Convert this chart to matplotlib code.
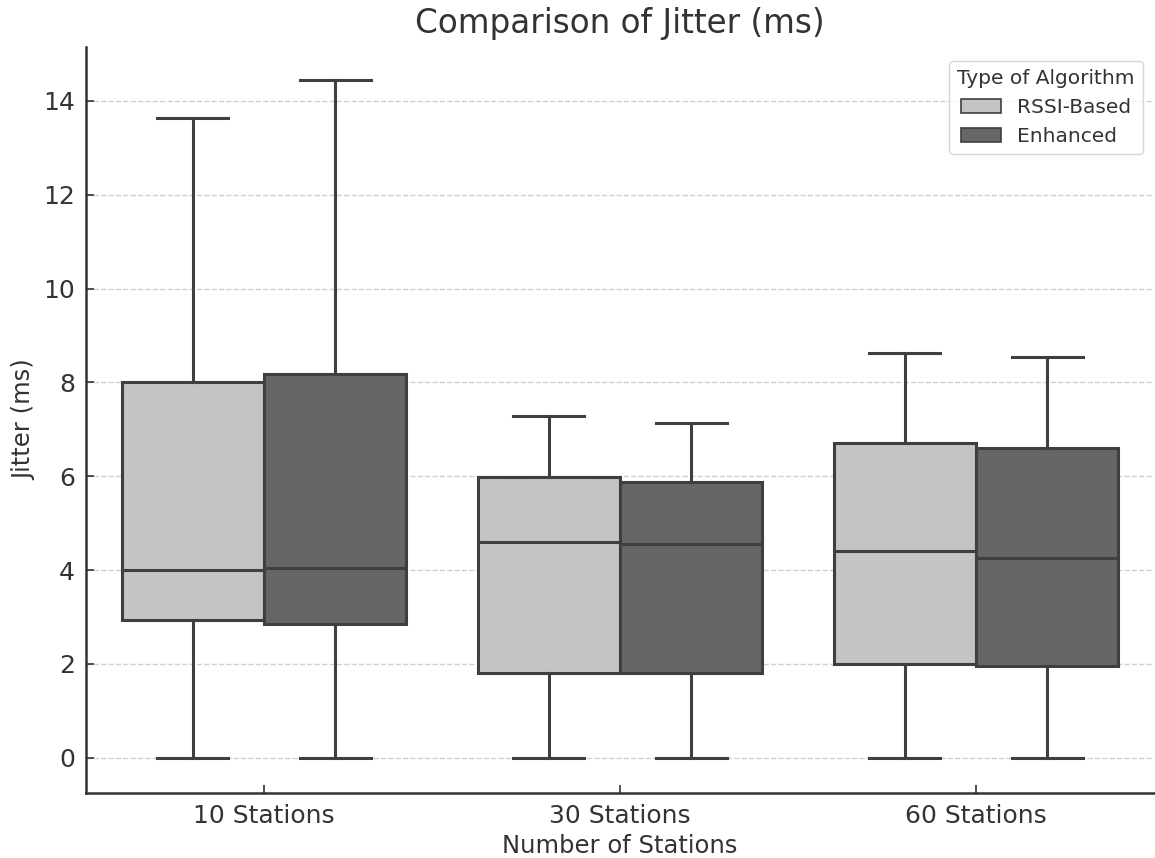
import matplotlib
matplotlib.use("Agg")
import matplotlib.pyplot as plt
from matplotlib.patches import Patch

# box statistics (ms)
stations = ["10 Stations", "30 Stations", "60 Stations"]
algorithms = ["RSSI-Based", "Enhanced"]

rssi_low = [0.0, 0.0, 0.0]
rssi_q1 = [2.94, 1.81, 2.0]
rssi_med = [4.0, 4.6, 4.41]
rssi_q3 = [8.01, 5.99, 6.71]
rssi_high = [13.64, 7.29, 8.63]

enh_low = [0.0, 0.0, 0.0]
enh_q1 = [2.86, 1.81, 1.96]
enh_med = [4.05, 4.56, 4.26]
enh_q3 = [8.18, 5.88, 6.61]
enh_high = [14.45, 7.14, 8.55]

colors = ["#c4c4c4", "#666666"]
edge = "#3f3f3f"
text_col = "#333333"


def make_stats(lo, q1, med, q3, hi):
    return [dict(whislo=a, q1=b, med=c, q3=d, whishi=e, fliers=[])
            for a, b, c, d, e in zip(lo, q1, med, q3, hi)]


series = [
    make_stats(rssi_low, rssi_q1, rssi_med, rssi_q3, rssi_high),
    make_stats(enh_low, enh_q1, enh_med, enh_q3, enh_high),
]

fig = plt.figure(figsize=(11.55, 8.58), dpi=100)
ax = fig.add_axes([0.0745, 0.0758, 0.9247, 0.8695])

offsets = [-0.2, 0.2]
lw = 2.2
for k, stats in enumerate(series):
    pos = [i + offsets[k] for i in range(len(stations))]
    ax.bxp(stats, positions=pos, widths=0.4, capwidths=0.2, patch_artist=True,
           showfliers=False, manage_ticks=False,
           boxprops=dict(facecolor=colors[k], edgecolor=edge, linewidth=lw, zorder=2),
           medianprops=dict(color=edge, linewidth=lw, zorder=3),
           whiskerprops=dict(color=edge, linewidth=lw, zorder=3),
           capprops=dict(color=edge, linewidth=lw, zorder=3))

ax.set_xlim(-0.5, 2.5)
ax.set_ylim(-0.75, 15.15)
ax.set_xticks(range(len(stations)))
ax.set_xticklabels(stations)
ax.set_yticks([0, 2, 4, 6, 8, 10, 12, 14])

ax.yaxis.grid(True, linestyle="--", color="#b0b0b0", alpha=0.6, linewidth=1)
for gl in ax.get_ygridlines():
    gl.set_zorder(2.5)

for s in ["top", "right"]:
    ax.spines[s].set_visible(False)
for s in ["left", "bottom"]:
    ax.spines[s].set_color(text_col)
    ax.spines[s].set_linewidth(1.8)

ax.tick_params(direction="in", length=6, width=1.2, color=text_col,
               labelsize=18, labelcolor=text_col, pad=8)

ax.set_title("Comparison of Jitter (ms)", fontsize=23.5, color=text_col, pad=10)
ax.set_xlabel("Number of Stations", fontsize=17.5, color=text_col, labelpad=4)
ax.set_ylabel("Jitter (ms)", fontsize=17.5, color=text_col, labelpad=5)

handles = [Patch(facecolor=colors[k], edgecolor=edge, linewidth=1.2, label=algorithms[k])
           for k in range(2)]
leg = ax.legend(handles=handles, title="Type of Algorithm", loc="upper right",
                fontsize=14.5, title_fontsize=14.5, frameon=True,
                bbox_to_anchor=(0.999, 0.995))
leg.set_zorder(5)
for t in leg.get_texts():
    t.set_color(text_col)
leg.get_title().set_color(text_col)

fig.savefig("out.png", dpi=100)
